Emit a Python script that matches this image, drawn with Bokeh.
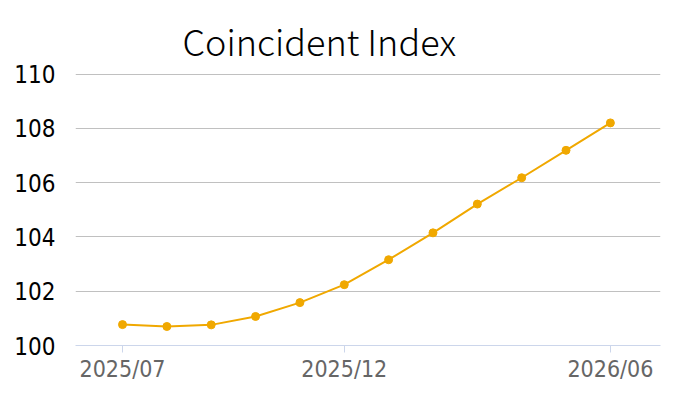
from bokeh.plotting import figure
from bokeh.models import FixedTicker, Range1d, ColumnDataSource
from bokeh.embed import file_html
from bokeh.resources import INLINE

months = ["2025/07", "2025/08", "2025/09", "2025/10", "2025/11", "2025/12",
          "2026/01", "2026/02", "2026/03", "2026/04", "2026/05", "2026/06"]
values = [100.77, 100.70, 100.76, 101.07, 101.58, 102.24,
          103.16, 104.15, 105.21, 106.18, 107.19, 108.20]
y_ticks = [100, 102, 104, 106, 108, 110]
x_label_months = ["2025/07", "2025/12", "2026/06"]

idx = list(range(len(months)))
src = ColumnDataSource(dict(x=idx, y=values, m=months))

p = figure(width=684, height=384, output_backend="svg", toolbar_location=None,
           x_range=Range1d(-1.06, 12.13), y_range=Range1d(100, 110.02),
           min_border_left=75, min_border_right=24, min_border_top=73, min_border_bottom=39)
p.outline_line_color = None
p.background_fill_color = "white"
p.border_fill_color = "white"

p.title.text = "Coincident Index"
p.title.text_font = "Noto Sans CJK KR Light"
p.title.text_font_style = "normal"
p.title.text_font_size = "36px"
p.title.text_color = "#000000"
p.title.align = "left"
p.title.offset = 107
p.title.standoff = 16

p.line("x", "y", source=src, line_color="#f0a800", line_width=2)
p.scatter("x", "y", source=src, size=8, fill_color="#f0a800", line_color="#f0a800")

xt = [months.index(m) for m in x_label_months]
p.xaxis.ticker = FixedTicker(ticks=xt)
p.xaxis.major_label_overrides = {i: months[i] for i in xt}
p.xaxis.axis_line_color = "#ccd6eb"
p.xaxis.major_tick_line_color = "#ccd6eb"
p.xaxis.major_tick_in = 0
p.xaxis.major_tick_out = 7
p.xaxis.minor_tick_line_color = None
p.xaxis.major_label_text_font = "DejaVu Sans Condensed"
p.xaxis.major_label_text_font_size = "23px"
p.xaxis.major_label_text_color = "#666666"
p.xaxis.major_label_standoff = 3

p.yaxis.ticker = FixedTicker(ticks=y_ticks)
p.yaxis.axis_line_color = None
p.yaxis.major_tick_line_color = None
p.yaxis.minor_tick_line_color = None
p.yaxis.major_label_text_font = "DejaVu Sans Condensed"
p.yaxis.major_label_text_font_size = "24px"
p.yaxis.major_label_text_color = "#000000"
p.yaxis.major_label_standoff = 14

p.xgrid.grid_line_color = None
p.ygrid.ticker = FixedTicker(ticks=y_ticks)
p.ygrid.grid_line_color = "#c0c0c0"
p.ygrid.grid_line_width = 1

open("out.html", "w").write(file_html(p, INLINE))
